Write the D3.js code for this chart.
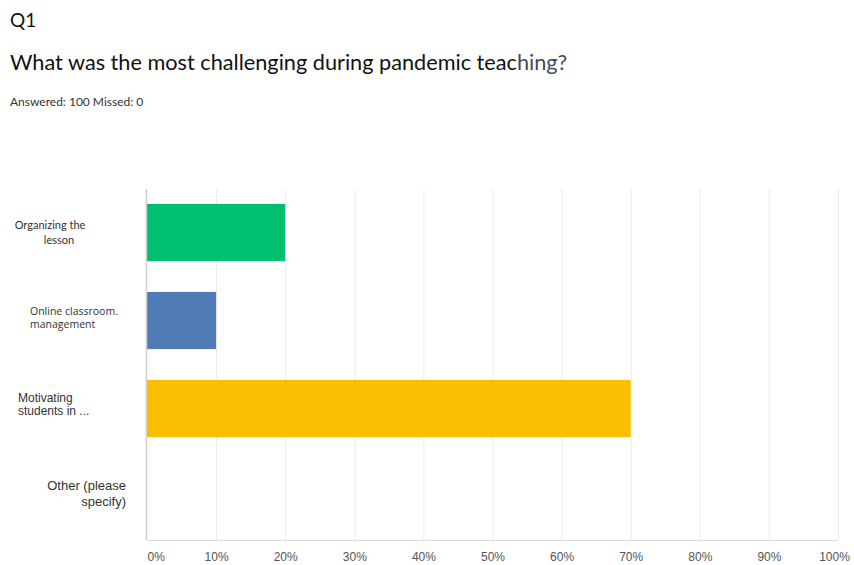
<!DOCTYPE html>
<html>
<head>
<meta charset="utf-8">
<script src="https://cdn.jsdelivr.net/npm/d3@7"></script>
<style>
  body { margin: 0; background: #fff; }
</style>
</head>
<body>
<div id="chart"></div>
<script>
var width = 854;
var height = 565;

// data
var categories = ["Organizing the lesson", "Online classroom. management", "Motivating students in ...", "Other (please specify)"];
var labelLines = [["Organizing the", "lesson"], ["Online classroom.", "management"], ["Motivating", "students in ..."], ["Other (please", "specify)"]];
var percents = [20, 10, 70, 0];
var barColors = ["#00bf6f", "#507cb6", "#f9be00", "#6bc8cd"];
var tickValues = [0, 10, 20, 30, 40, 50, 60, 70, 80, 90, 100];

// label styling (each label in the picture is set a bit differently)
var labelStyle = [
  { x: [50, 59], anchor: "middle", font: "Lato", size: 11, dy: [-4, 11] },
  { x: [30, 30], anchor: "start", font: "Open Sans", size: 10.5, dy: [-6, 7] },
  { x: [18, 18], anchor: "start", font: "Liberation Sans", size: 12, dy: [-6, 7] },
  { x: [126, 126], anchor: "end", font: "Liberation Sans", size: 13, dy: [-6, 10] }
];

var margin = { top: 189, left: 147, right: 854 - 838, bottom: 565 - 540 };
var innerW = width - margin.left - margin.right;
var innerH = height - margin.top - margin.bottom;

var svg = d3.select("#chart").append("svg")
  .attr("width", width)
  .attr("height", height);

// header
svg.append("text").attr("x", 10).attr("y", 27)
  .style("font-family", "Lato").style("font-size", "19px").style("fill", "#111")
  .text("Q1");

var title = svg.append("text").attr("x", 10).attr("y", 70)
  .style("font-family", "Lato").style("font-size", "21.7px").style("fill", "#111");
title.append("tspan").text("What was the most challenging during pandemic teac");
title.append("tspan").style("fill", "#3e4c5c").text("hing?");

svg.append("text").attr("x", 10).attr("y", 106)
  .style("font-family", "Lato").style("font-size", "12px").style("fill", "#333")
  .text("Answered: 100 Missed: 0");

var g = svg.append("g").attr("transform", "translate(" + margin.left + "," + margin.top + ")");

var x = d3.scaleLinear().domain([0, 100]).range([0, innerW]);
var y = d3.scaleBand().domain(categories).range([0, innerH]).paddingInner(0.35).paddingOuter(0.17);

// gridlines
g.append("g")
  .attr("class", "grid")
  .attr("transform", "translate(0," + innerH + ")")
  .call(d3.axisBottom(x).tickValues(tickValues.slice(1)).tickSize(-innerH).tickFormat(""))
  .call(function(s) {
    s.select(".domain").remove();
    s.selectAll("line").attr("stroke", "#ececec");
  });

// bars
g.selectAll("rect.bar")
  .data(categories)
  .enter().append("rect")
  .attr("class", "bar")
  .attr("x", x(0))
  .attr("y", function(d) { return y(d); })
  .attr("height", y.bandwidth())
  .attr("width", function(d, i) { return x(percents[i]) - x(0); })
  .attr("fill", function(d, i) { return barColors[i]; });

// axis lines
g.append("line").attr("x1", 0).attr("x2", innerW).attr("y1", innerH + 0.5).attr("y2", innerH + 0.5)
  .attr("stroke", "#dcdcdc");
g.append("line").attr("x1", -0.5).attr("x2", -0.5).attr("y1", 0).attr("y2", innerH)
  .attr("stroke", "#cfcfcf").attr("stroke-width", 1.5);

// x tick labels
var xAxis = g.append("g")
  .attr("transform", "translate(0," + innerH + ")")
  .call(d3.axisBottom(x).tickValues(tickValues).tickSize(0).tickPadding(12).tickFormat(function(d) { return d + "%"; }));
xAxis.select(".domain").remove();
xAxis.selectAll("text")
  .style("font-family", "Liberation Sans").style("font-size", "12px").style("fill", "#555")
  .attr("text-anchor", function(d) { return d === 0 ? "start" : "middle"; })
  .attr("dx", function(d) { return d === 100 ? -4 : 0; });

// category labels
categories.forEach(function(c, i) {
  var st = labelStyle[i];
  var cy = margin.top + y(c) + y.bandwidth() / 2;
  labelLines[i].forEach(function(line, j) {
    svg.append("text")
      .attr("x", st.x[j])
      .attr("y", cy + st.dy[j])
      .attr("text-anchor", st.anchor)
      .style("font-family", st.font)
      .style("font-size", st.size + "px")
      .style("fill", "#333")
      .text(line);
  });
});
</script>
</body>
</html>
